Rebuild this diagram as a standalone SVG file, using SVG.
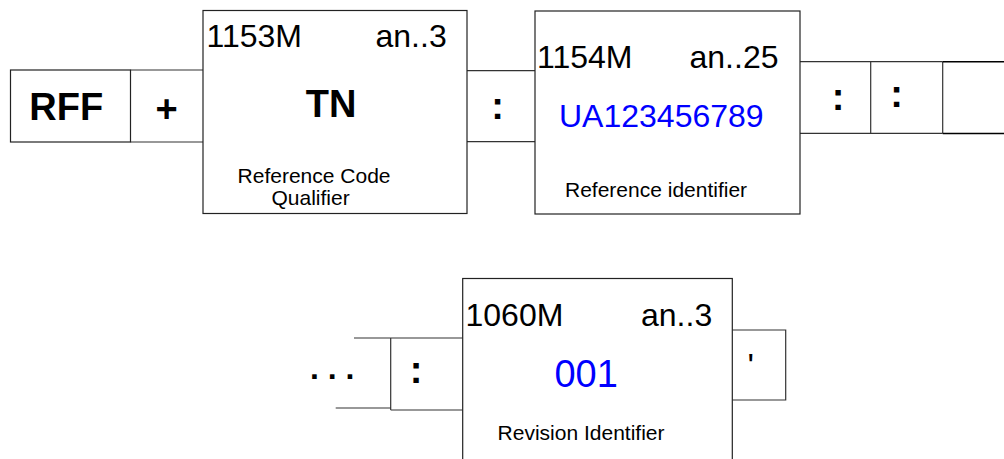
<svg xmlns="http://www.w3.org/2000/svg" width="1004" height="459" viewBox="0 0 1004 459">
<style>
.ln{fill:none;stroke:#333;stroke-width:1.2}
.bx{fill:#fff;stroke:#222;stroke-width:1.2}
.sep{font-family:"Liberation Sans",Arial,sans-serif;font-weight:bold;font-size:38px;fill:#000;text-anchor:middle}
.hd{font-family:"Liberation Sans",Arial,sans-serif;font-size:32px;fill:#000}
.val{font-family:"Liberation Sans",Arial,sans-serif;font-size:32px;fill:#0000ff}
.lbl{font-family:"Liberation Sans",Arial,sans-serif;font-size:21px;fill:#000}
</style>
<rect width="1004" height="459" fill="#fff"/>
<g id="connectors">
<path class="ln" d="M130.5 70H203M130.5 142H203"/>
<path class="ln" d="M467 70.7H535M467 141.7H535"/>
<path class="ln" d="M800 61.7H942.7M800 133.3H942.7M870.7 61.7V133.3M942.7 61.7V133.3"/>
<path class="ln" style="stroke:#000;stroke-width:1.5" d="M942.7 61.7H1004M942.7 133.6H1004"/>
<path class="ln" d="M354 338H462.7M335.7 408H390.7M390.7 410H462.7M390.7 338V410"/>
<path class="ln" d="M732.3 330H785.7V400H732.3"/>
</g>
<g id="rff">
<rect class="bx" x="10.5" y="70" width="120" height="72"/>
<text class="sep" x="66.3" y="120">RFF</text>
</g>
<g id="plus">
<text class="sep" x="166.7" y="121.5">+</text>
</g>
<g id="e1153">
<rect class="bx" x="203" y="10.5" width="264" height="203"/>
<text class="hd" x="206.5" y="47">1153M</text>
<text class="hd" x="375.5" y="47">an..3</text>
<text class="sep" x="331" y="116.7">TN</text>
<text class="lbl" x="237.6" y="183.3">Reference Code</text>
<text class="lbl" x="271.5" y="205">Qualifier</text>
</g>
<g id="colon1">
<text class="sep" x="497.5" y="119">:</text>
</g>
<g id="e1154">
<rect class="bx" x="535" y="11" width="265" height="203"/>
<text class="hd" x="537" y="68">1154M</text>
<text class="hd" x="689.5" y="68">an..25</text>
<text class="val" x="559" y="126.7">UA123456789</text>
<text class="lbl" x="565" y="196.5">Reference identifier</text>
</g>
<g id="colon2">
<text class="sep" x="838" y="110">:</text>
</g>
<g id="colon3">
<text class="sep" x="896.7" y="107">:</text>
</g>
<g id="ellipsis">
<text class="sep" style="font-size:32px" x="332.2" y="379.3">. . .</text>
</g>
<g id="colon4">
<text class="sep" x="416" y="383">:</text>
</g>
<g id="e1060">
<rect class="bx" x="462.7" y="278.5" width="269.6" height="200"/>
<text class="hd" x="465.5" y="326">1060M</text>
<text class="hd" x="641" y="326">an..3</text>
<text class="val" style="font-size:38px" x="554.4" y="387">001</text>
<text class="lbl" x="497.6" y="439.7">Revision Identifier</text>
</g>
<g id="apostrophe">
<text class="sep" style="font-weight:normal;font-size:34px" x="750.8" y="377">'</text>
</g>
</svg>
